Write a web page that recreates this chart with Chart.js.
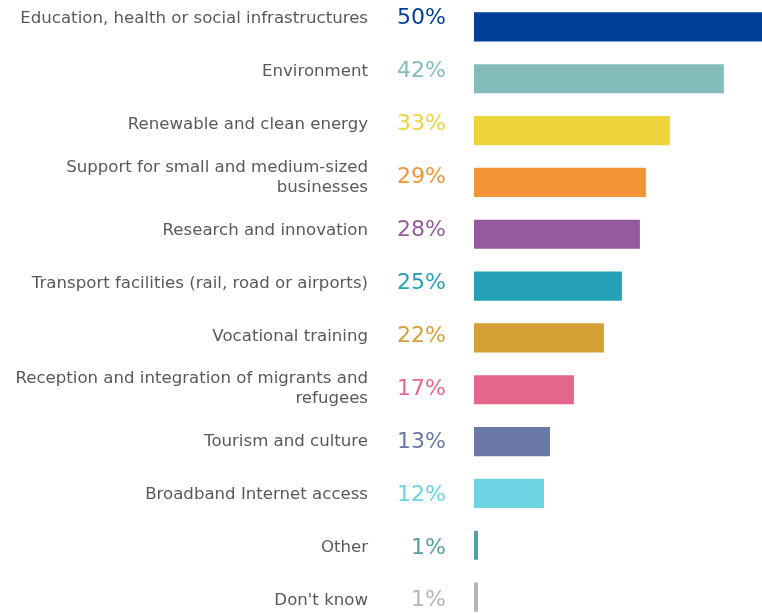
<!DOCTYPE html>
<html lang="en">
<head>
<meta charset="UTF-8">
<title>Priorities</title>
<script src="https://cdn.jsdelivr.net/npm/chart.js@4.4.0/dist/chart.umd.min.js"></script>
<style>
  * { box-sizing: border-box; margin: 0; padding: 0; }
  html, body { width: 762px; height: 614px; overflow: hidden; background: #fff; }
  .wrap { position: relative; width: 762px; height: 624px; }
</style>
</head>
<body>
<div class="wrap"><canvas id="chart"></canvas></div>

<script>
// ── data ─────────────────────────────────────────────────────────────
const categories = [
  'Education, health or social infrastructures',
  'Environment',
  'Renewable and clean energy',
  ['Support for small and medium-sized', 'businesses'],
  'Research and innovation',
  'Transport facilities (rail, road or airports)',
  'Vocational training',
  ['Reception and integration of migrants and', 'refugees'],
  'Tourism and culture',
  'Broadband Internet access',
  'Other',
  "Don't know",
]
const values = [50, 42, 33, 29, 28, 25, 22, 17, 13, 12, 1, 1]
const percentLabels = values.map(v => v + '%')
const colors = [
  '#003F98', '#84BBBB', '#EDD43A', '#F19535', '#935A9C', '#24A1B7',
  '#D4A035', '#E5688C', '#6A78A6', '#6CD3E3', '#55A0A3', '#B5B5B5',
]

const idx = categories.map((_, i) => i)
const FONT = "'DejaVu Sans', Verdana, sans-serif"

// label axes: linear, one tick per category index (labels sit on a slightly
// wider pitch than the bars in the original)
const labelAxis = (width, extra) => ({
  type: 'linear', position: 'left', reverse: true, offset: false,
  min: -0.335, max: 11.42,
  grid: { display: false, drawTicks: false, offset: false }, border: { display: false },
  afterBuildTicks: s => { s.ticks = idx.map(v => ({ value: v })) },
  afterFit: s => { s.width = width; s.paddingTop = 0; s.paddingBottom = 0 },
  ...extra,
})

new Chart(document.getElementById('chart'), {
  type: 'bar',
  data: {
    labels: categories,
    datasets: [{
      data: values,
      backgroundColor: colors,
      borderColor: 'rgba(255,255,255,0.55)',
      borderWidth: 1,
      borderSkipped: false,
      barPercentage: 0.6,
      categoryPercentage: 1,
      yAxisID: 'y',
    }]
  },
  options: {
    indexAxis: 'y',
    responsive: true, maintainAspectRatio: false, animation: false,
    layout: { padding: { top: 1, bottom: 1, left: 0, right: 0 } },
    plugins: { legend: { display: false }, tooltip: { enabled: false } },
    scales: {
      x: { min: 0, max: 48.2, display: false },
      y: { type: 'category', display: false },
      yl: labelAxis(373, {
        weight: 2,
        ticks: {
          autoSkip: false, padding: 5, color: '#595959',
          font: { family: FONT, size: 16.6, lineHeight: 1.2 },
          callback: v => categories[v],
        },
      }),
      yp: labelAxis(100, {
        weight: 1,
        ticks: {
          autoSkip: false, padding: 27,
          color: ctx => colors[ctx.index],
          font: { family: FONT, size: 22 },
          callback: v => percentLabels[v],
        },
      }),
    }
  }
})
</script>
</body>
</html>
